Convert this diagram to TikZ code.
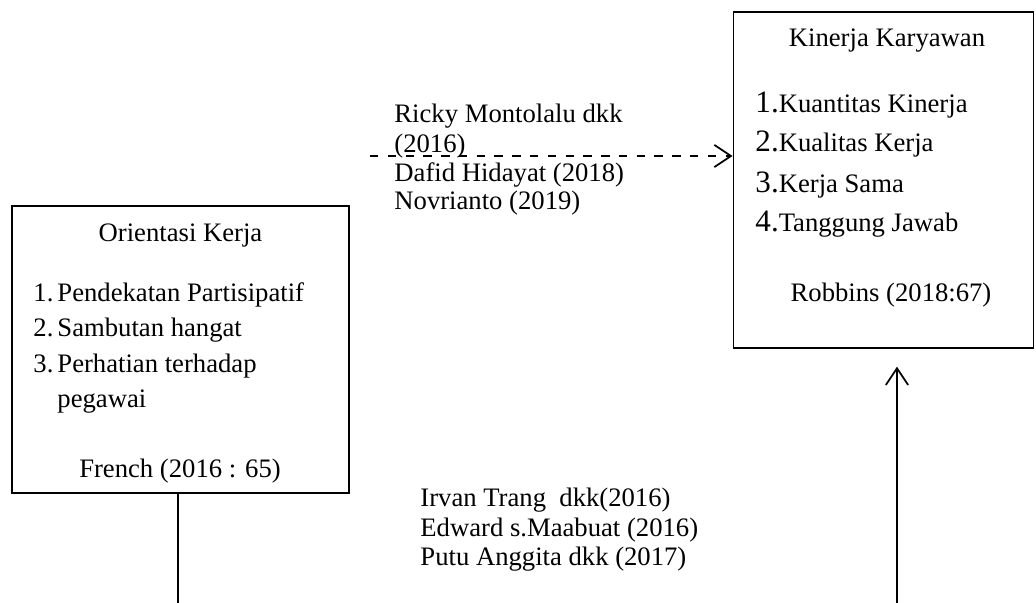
\documentclass[tikz,border=0pt]{standalone}
\usepackage{fontspec}
\setmainfont{Liberation Serif}
\usetikzlibrary{arrows.meta}

\tikzset{
  box/.style={draw,line width=0.8pt,inner sep=0pt},
  txt/.style={anchor=base west,inner sep=0pt,font=\fontsize{12}{14}\selectfont},
  ctr/.style={anchor=base,inner sep=0pt,font=\fontsize{12}{14}\selectfont},
  link/.style={line width=0.8pt,-{Straight Barb[length=7.5pt,width=10pt,line width=0.8pt]}},
}
\newcommand{\onum}[1]{\makebox[10.8pt][l]{#1}}
\newcommand{\knum}[1]{{\fontsize{14}{16}\selectfont #1}}

\begin{document}
\begin{tikzpicture}[x=0.45pt,y=-0.45pt]
\useasboundingbox (0,0) rectangle (1036,603);
% boxes
\node[box,minimum width=151.65pt,minimum height=129.15pt] (orient) at (180.5,349.5) {};
\node[box,minimum width=135pt,minimum height=151.2pt] (kinerja) at (883.5,180) {};
% orientasi kerja
\node[ctr] (otitle) at (180.5,242) {Orientasi Kerja};
\node[txt] (o1) at (33,302) {\onum{1.}Pendekatan Partisipatif};
\node[txt] (o2) at (33,337) {\onum{2.}Sambutan hangat};
\node[txt] (o3) at (33,373) {\onum{3.}Perhatian terhadap};
\node[txt] (o4) at (57,408) {pegawai};
\node[ctr] (osrc) at (180,478) {French (2016 : 65)};
% kinerja karyawan
\node[ctr] (ktitle) at (887,47) {Kinerja Karyawan};
\node[txt] (k1) at (755,113) {\knum{1.}Kuantitas Kinerja};
\node[txt] (k2) at (755,152) {\knum{2.}Kualitas Kerja};
\node[txt] (k3) at (755,193) {\knum{3.}Kerja Sama};
\node[txt] (k4) at (755,232) {\knum{4.}Tanggung Jawab};
\node[ctr] (ksrc) at (891,302) {Robbins (2018:67)};
% penelitian terdahulu
\node[txt] (r1) at (394,123) {Ricky Montolalu dkk};
\node[txt] (r2) at (394,153) {(2016)};
\node[txt] (r3) at (394,182) {Dafid Hidayat (2018)};
\node[txt] (r4) at (394,210) {Novrianto (2019)};
\node[txt] (p1) at (420,507) {Irvan Trang~ dkk(2016)};
\node[txt] (p2) at (420,537) {Edward s.Maabuat (2016)};
\node[txt] (p3) at (420,566) {Putu Anggita dkk (2017)};
% connectors
\coordinate (dashstart) at (370,156);
\coordinate (leftend) at (178,603);
\coordinate (rightend) at (897,603);
\draw[link,dash pattern=on 3.8pt off 4.2pt] (dashstart) -- (dashstart -| kinerja.west);
\draw[line width=0.8pt] (orient.south -| leftend) -- (leftend);
\draw[link,shorten >=8pt] (rightend) -- (kinerja.south -| rightend);
\end{tikzpicture}
\end{document}
